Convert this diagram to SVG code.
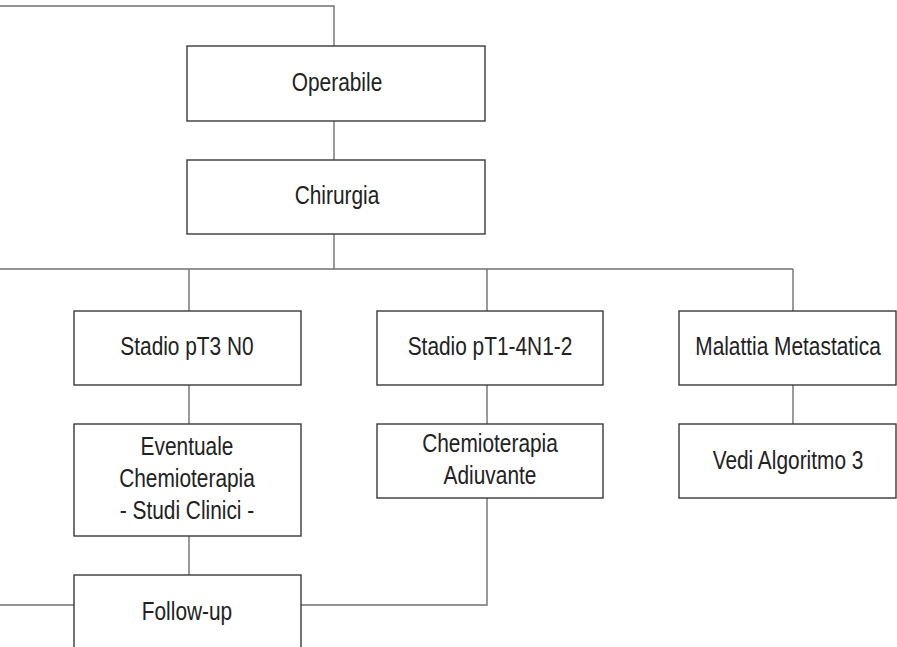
<svg xmlns="http://www.w3.org/2000/svg" width="897" height="647" viewBox="0 0 897 647">
<style>
.box{fill:#fff;stroke:#3a3a3a;stroke-width:1.4}
.ln{fill:none;stroke:#707070;stroke-width:1.4}
text{font-family:"Liberation Sans Narrow","Liberation Sans",Arial,sans-serif;font-size:25px;fill:#222;text-anchor:middle}
</style>
<rect width="897" height="647" fill="#fff"/>
<g id="connectors">
<polyline class="ln" points="0,6 334,6 334,46"/>
<line class="ln" x1="334" y1="121" x2="334" y2="160"/>
<line class="ln" x1="334" y1="234" x2="334" y2="269"/>
<line class="ln" x1="0" y1="269" x2="793" y2="269"/>
<line class="ln" x1="189" y1="269" x2="189" y2="311"/>
<line class="ln" x1="487" y1="269" x2="487" y2="311"/>
<line class="ln" x1="793" y1="269" x2="793" y2="311"/>
<line class="ln" x1="189" y1="385" x2="189" y2="424"/>
<line class="ln" x1="189" y1="536" x2="189" y2="575"/>
<line class="ln" x1="487" y1="385" x2="487" y2="424"/>
<polyline class="ln" points="487,498 487,605 301,605"/>
<line class="ln" x1="793" y1="385" x2="793" y2="424"/>
<line class="ln" x1="0" y1="605" x2="74" y2="605"/>
</g>
<g id="operabile"><rect class="box" x="187" y="46" width="298" height="75"/><text transform="translate(337,91) scale(0.835,1)">Operabile</text></g>
<g id="chirurgia"><rect class="box" x="187" y="160" width="298" height="74"/><text transform="translate(337,204) scale(0.835,1)">Chirurgia</text></g>
<g id="stadio-pt3"><rect class="box" x="74" y="311" width="227" height="74"/><text transform="translate(187,355) scale(0.835,1)">Stadio pT3 N0</text></g>
<g id="stadio-pt1"><rect class="box" x="377" y="311" width="226" height="74"/><text transform="translate(490,355) scale(0.835,1)">Stadio pT1-4N1-2</text></g>
<g id="malattia"><rect class="box" x="679" y="311" width="217" height="74"/><text transform="translate(788,355) scale(0.835,1)">Malattia Metastatica</text></g>
<g id="eventuale"><rect class="box" x="74" y="424" width="227" height="112"/><text transform="translate(187,455) scale(0.835,1)">Eventuale</text><text transform="translate(187,487) scale(0.835,1)">Chemioterapia</text><text transform="translate(187,519) scale(0.835,1)">- Studi Clinici -</text></g>
<g id="chemio-adiuvante"><rect class="box" x="377" y="424" width="226" height="74"/><text transform="translate(490,452) scale(0.835,1)">Chemioterapia</text><text transform="translate(490,484) scale(0.835,1)">Adiuvante</text></g>
<g id="vedi"><rect class="box" x="679" y="424" width="217" height="74"/><text transform="translate(788,469) scale(0.835,1)">Vedi Algoritmo 3</text></g>
<g id="followup"><rect class="box" x="74" y="575" width="227" height="90"/><text transform="translate(187,620) scale(0.835,1)">Follow-up</text></g>
</svg>
